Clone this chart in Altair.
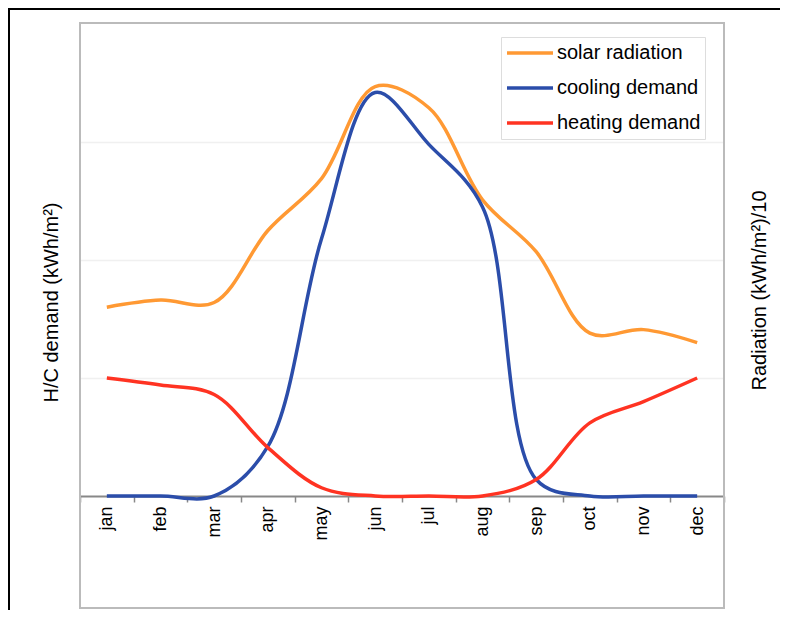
import altair as alt
import pandas as pd

months = ["jan", "feb", "mar", "apr", "may", "jun", "jul", "aug", "sep", "oct", "nov", "dec"]
series_names = ["solar radiation", "cooling demand", "heating demand"]
series_colors = ["#FF9933", "#2B4DAA", "#FF3322"]

solar = [1.60, 1.66, 1.64, 2.25, 2.69, 3.47, 3.29, 2.51, 2.07, 1.38, 1.41, 1.30]
cooling = [0.0, 0.0, 0.0, 0.42, 2.18, 3.42, 2.98, 2.45, 0.14, 0.0, 0.0, 0.0]
heating = [1.00, 0.94, 0.86, 0.41, 0.07, 0.0, 0.0, 0.0, 0.14, 0.62, 0.80, 1.00]

rows = []
for name, vals in zip(series_names, [solar, cooling, heating]):
    for m, v in zip(months, vals):
        rows.append({"month": m, "series": name, "value": v})
df = pd.DataFrame(rows)

FONT = "Liberation Sans"
W, H = 644, 472
PAD = {"left": 72, "top": 16, "right": 56, "bottom": 114}

color_scale = alt.Scale(domain=series_names, range=series_colors)
legend = alt.Legend(
    title=None, orient="none", legendX=421, legendY=13, padding=4,
    strokeColor="#DDDDDD", fillColor="white", symbolType="stroke",
    symbolSize=2116, symbolStrokeWidth=3.5, clipHeight=24, rowPadding=11,
    labelFontSize=20, labelFont=FONT, labelColor="black", labelOffset=2,
    labelLimit=400,
)

x_enc = alt.X(
    "month:O", sort=months, bandPosition=0.5,
    scale=alt.Scale(type="band", paddingInner=0, paddingOuter=0),
    axis=alt.Axis(
        title=None, tickBand="extent", labelAngle=270, labelFontSize=18,
        labelFont=FONT, labelColor="black", domainColor="#888888",
        domainWidth=2, tickColor="#888888", tickSize=6, tickWidth=1.5,
        labelPadding=4, grid=False,
    ),
)

LINE = dict(strokeWidth=3.5, interpolate="catmull-rom")

demand = alt.Chart(df).transform_filter(
    alt.datum.series != "solar radiation"
).mark_line(**LINE).encode(
    x=x_enc,
    y=alt.Y(
        "value:Q",
        scale=alt.Scale(domain=[0, 4], nice=False),
        axis=alt.Axis(
            orient="left", title="H/C demand (kWh/m²)", labels=False,
            ticks=False, domain=False, values=[1, 2, 3], grid=True,
            gridColor="#F0F0F0", gridWidth=1.5, titleX=-29, titleY=278,
            titleAngle=270, titleAlign="center", titleBaseline="middle",
            titleFontSize=20, titleFont=FONT, titleFontWeight="normal",
            titleColor="black",
        ),
    ),
    color=alt.Color("series:N", scale=color_scale, legend=legend),
)

solar_layer = alt.Chart(df).transform_filter(
    alt.datum.series == "solar radiation"
).mark_line(**LINE).encode(
    x=x_enc,
    y=alt.Y(
        "value:Q",
        scale=alt.Scale(domain=[0, 4], nice=False),
        axis=alt.Axis(
            orient="right", title="Radiation (kWh/m²)/10", labels=False,
            ticks=False, domain=False, grid=False, titleX=35, titleY=266,
            titleAngle=270, titleAlign="center", titleBaseline="middle",
            titleFontSize=20, titleFont=FONT, titleFontWeight="normal",
            titleColor="black",
        ),
    ),
    color=alt.Color("series:N", scale=color_scale, legend=legend),
)

one = alt.Data(values=[{"a": 1}])
right_edge = W + PAD["right"]
bottom_edge = H + PAD["bottom"]
frame = alt.Chart(one).mark_rect(filled=False, stroke="#BBBBBB", strokeWidth=2).encode(
    x=alt.value(0), x2=alt.value(W), y=alt.value(-1), y2=alt.value(bottom_edge - 2)
)
border_top = alt.Chart(one).mark_rect(color="black", strokeWidth=0).encode(
    x=alt.value(-72), x2=alt.value(right_edge), y=alt.value(-16), y2=alt.value(-14)
)
border_left = alt.Chart(one).mark_rect(color="black", strokeWidth=0).encode(
    x=alt.value(-72), x2=alt.value(-70), y=alt.value(-16), y2=alt.value(bottom_edge)
)

chart = alt.layer(border_top, border_left, frame, solar_layer, demand).resolve_scale(
    y="independent"
).properties(
    width=W, height=H,
    autosize=alt.AutoSizeParams(type="none"),
    padding=PAD,
).configure_view(strokeWidth=0)

chart.save("out.html", embed_options={"renderer": "svg", "actions": False})
